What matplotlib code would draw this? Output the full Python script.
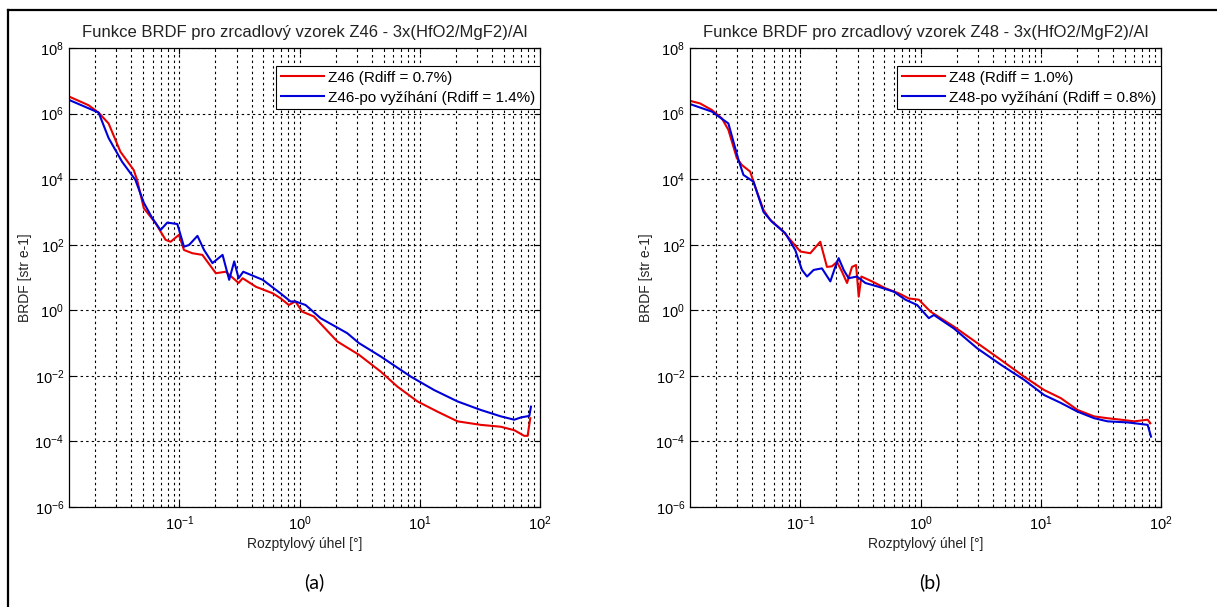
import numpy as np
import matplotlib.pyplot as plt
from matplotlib.lines import Line2D
from matplotlib.ticker import LogLocator, NullLocator, NullFormatter

plt.rcParams['font.family'] = ['Liberation Sans', 'DejaVu Sans']
plt.rcParams['mathtext.fontset'] = 'custom'
plt.rcParams['mathtext.rm'] = 'Liberation Sans'
plt.rcParams['axes.unicode_minus'] = False

# data (angle in deg, BRDF in str^-1)
# (a) vzorek Z46
uhel_z46 = [0.01213, 0.01758, 0.02133, 0.02582, 0.03236, 0.04178, 0.04457, 0.0507, 0.06339,
            0.07691, 0.08472, 0.0993, 0.1094, 0.1285, 0.1556, 0.2014, 0.2438, 0.3112, 0.3365,
            0.4345, 0.5984, 0.6934, 0.8147, 0.9247, 1.052, 1.315, 2.061, 3.119, 4.732, 6.516,
            9.572, 14.03, 20.61, 32.21, 47.32, 61.09, 73.96, 78.89, 82.99]
brdf_z46 = [3.3e6, 1.8e6, 1.07e6, 5.0e5, 6.9e4, 1.9e4, 9.5e3, 1.3e3, 460,
            141, 123, 200, 69, 55, 49, 13.5, 15, 6.8, 9.5,
            5.2, 3.3, 2.34, 1.45, 1.86, 0.91, 0.65, 0.112, 0.044, 0.0135, 0.0047,
            0.00166, 8.1e-4, 4.1e-4, 3.2e-4, 2.8e-4, 2.2e-4, 1.48e-4, 1.48e-4, 5.1e-4]

uhel_z46po = [0.01213, 0.02133, 0.02582, 0.03342, 0.04315, 0.0507, 0.05957, 0.06982, 0.07943,
              0.09638, 0.1094, 0.1205, 0.1416, 0.1607, 0.1888, 0.2291, 0.26, 0.2864, 0.3112,
              0.3404, 0.4943, 0.6934, 0.8414, 0.9247, 1.122, 1.496, 2.495, 3.119, 4.732, 8.414,
              13.15, 20.61, 32.21, 47.32, 61.09, 69.5, 81.47, 84.14]
brdf_z46po = [2.6e6, 1.07e6, 1.8e5, 3.4e4, 9.5e3, 1.9e3, 650, 280, 473,
              427, 87, 98, 186, 69, 27.5, 49, 8.5, 31, 9.5,
              15, 8.5, 3.3, 1.86, 1.86, 1.45, 0.575, 0.2, 0.1, 0.039, 0.0095,
              0.0037, 0.00166, 9.1e-4, 5.8e-4, 4.6e-4, 5.4e-4, 6.0e-4, 1.15e-3]

# (b) vzorek Z48
uhel_z48 = [0.0121, 0.01466, 0.01837, 0.02223, 0.02523, 0.02965, 0.03266, 0.03828, 0.04217,
            0.04943, 0.05623, 0.07031, 0.08531, 0.1, 0.1211, 0.1466, 0.1667, 0.1837, 0.2018,
            0.2223, 0.2449, 0.2692, 0.2911, 0.3062, 0.3221, 0.3954, 0.5105, 0.6592, 0.798,
            0.968, 1.211, 1.892, 2.965, 4.645, 7.261, 10.67, 14.66, 20.23, 27.8, 35.97,
            46.45, 59.98, 77.45, 81.47]
brdf_z48 = [2.45e6, 2.04e6, 1.29e6, 7.2e5, 3.2e5, 4.4e4, 2.7e4, 1.7e4, 5.9e3,
            1.15e3, 575, 282, 123, 62, 55, 123, 21, 22, 30,
            15, 6.8, 21, 24, 2.6, 10.7, 7.6, 4.7, 3.3, 2.3,
            2.1, 0.91, 0.32, 0.1, 0.031, 0.0095, 0.0037, 0.0021, 9.1e-4, 5.8e-4, 5.1e-4,
            4.6e-4, 4.1e-4, 4.6e-4, 3.6e-4]

uhel_z48po = [0.0121, 0.01837, 0.02523, 0.03062, 0.03365, 0.04083, 0.04943, 0.05808, 0.07499,
              0.09078, 0.1033, 0.1138, 0.1291, 0.1514, 0.1778, 0.1954, 0.2084, 0.2296, 0.2523,
              0.2965, 0.3475, 0.4487, 0.5984, 0.7499, 0.9376, 1.172, 1.291, 1.892, 2.965,
              4.645, 7.261, 10.67, 14.66, 20.23, 27.8, 35.97, 52.72, 68.08, 77.45, 82.6]
brdf_z48po = [1.95e6, 1.15e6, 5.0e5, 3.9e4, 1.35e4, 8.3e3, 1.0e3, 500, 224,
              69, 17, 10.7, 17, 19, 7.6, 21, 39, 17, 9.5,
              10.7, 6.8, 5.2, 3.7, 2.1, 1.45, 0.575, 0.72, 0.28, 0.069,
              0.022, 0.0076, 0.0026, 0.0015, 8.1e-4, 5.1e-4, 4.1e-4, 3.8e-4, 3.4e-4, 3.2e-4, 1.4e-4]

tituly = ["Funkce BRDF pro zrcadlový vzorek Z46 - 3x(HfO2/MgF2)/Al",
          "Funkce BRDF pro zrcadlový vzorek Z48 - 3x(HfO2/MgF2)/Al"]
legendy = [["Z46 (Rdiff = 0.7%)", "Z46-po vyžíhání (Rdiff = 1.4%)"],
           ["Z48 (Rdiff = 1.0%)", "Z48-po vyžíhání (Rdiff = 0.8%)"]]
popisky = ["(a)", "(b)"]
y_ticks = [1e-6, 1e-4, 1e-2, 1e0, 1e2, 1e4, 1e6, 1e8]

W, H = 1217, 607
fig = plt.figure(figsize=(W / 100, H / 100), dpi=100)

# ramecek kolem obrazku (jen horni a leva hrana jsou videt)
fig.add_artist(Line2D([8 / W, 1.0], [1 - 10 / H, 1 - 10 / H], color='black', lw=1.6))
fig.add_artist(Line2D([8 / W, 8 / W], [0.0, 1 - 10 / H], color='black', lw=1.6))

ax1 = fig.add_axes([69 / W, 100 / H, 471 / W, 459 / H])
ax2 = fig.add_axes([690 / W, 100 / H, 471 / W, 459 / H])

data = [(uhel_z46, brdf_z46, uhel_z46po, brdf_z46po),
        (uhel_z48, brdf_z48, uhel_z48po, brdf_z48po)]

for i, ax in enumerate([ax1, ax2]):
    x1, y1, x2, y2 = data[i]
    ax.plot(x1, y1, color='#e80000', lw=1.5, label=legendy[i][0])
    ax.plot(x2, y2, color='#0000d8', lw=1.5, label=legendy[i][1])
    ax.set_xscale('log')
    ax.set_yscale('log')
    ax.set_xlim(0.0121, 100)
    ax.set_ylim(1e-6, 1e8)
    ax.set_yticks(y_ticks)
    ax.yaxis.set_minor_locator(NullLocator())
    ax.xaxis.set_major_locator(LogLocator(base=10))
    ax.xaxis.set_minor_locator(LogLocator(base=10, subs=np.arange(2, 10)))
    ax.xaxis.set_minor_formatter(NullFormatter())
    ax.grid(True, which='both', axis='x', color='black', ls=(0, (2.2, 2.8)), lw=0.8)
    ax.grid(True, which='major', axis='y', color='black', ls=(0, (2.2, 2.8)), lw=0.8)
    ax.tick_params(which='both', direction='in', top=True, right=True, labelsize=10.5, color='black')
    ax.tick_params(which='major', length=4)
    ax.tick_params(which='minor', length=2)
    ax.tick_params(axis='x', pad=5)
    for s in ax.spines.values():
        s.set_linewidth(0.9)
    ax.set_title(tituly[i], fontsize=12, pad=8, color='#222222')
    ax.set_xlabel("Rozptylový úhel [°]", fontsize=10, labelpad=3, color='#222222')
    ax.set_ylabel("BRDF [str e-1]", fontsize=10, labelpad=2, color='#222222')
    leg = ax.legend(loc='upper right', bbox_to_anchor=(1.0, 1 - 18 / 459), borderaxespad=0,
                    fontsize=11, fancybox=False, framealpha=1, edgecolor='black',
                    handlelength=2.8, handletextpad=0.3, borderpad=0.3, labelspacing=0.4)
    leg.get_frame().set_linewidth(0.8)

fig.text(314 / W, 1 - 582 / H, popisky[0], fontsize=14, family='Lato', ha='center', va='center')
fig.text(930 / W, 1 - 582 / H, popisky[1], fontsize=14, family='Lato', ha='center', va='center')

plt.savefig("out.png", dpi=100)
